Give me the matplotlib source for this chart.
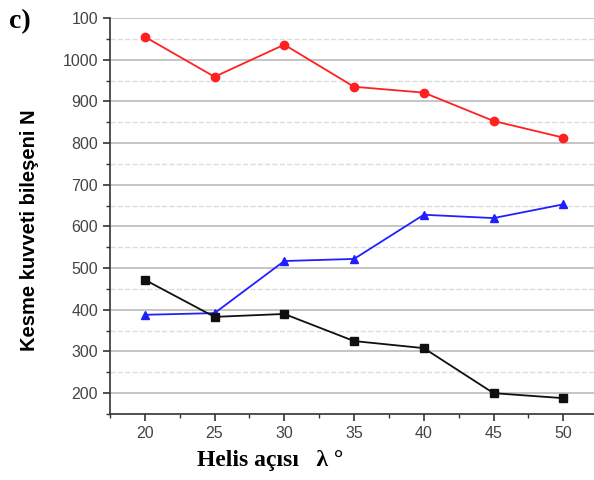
import numpy as np
import matplotlib
matplotlib.use("Agg")
import matplotlib.pyplot as plt
from matplotlib.ticker import MultipleLocator, FixedLocator, FixedFormatter

# data
angle = [20, 25, 30, 35, 40, 45, 50]
red_vals = [1055, 959, 1036, 935, 921, 853, 813]
blue_vals = [388, 392, 517, 522, 628, 620, 653]
black_vals = [472, 383, 390, 325, 308, 200, 188]

y_ticks = [200, 300, 400, 500, 600, 700, 800, 900, 1000, 1100]
y_tick_labels = ["200", "300", "400", "500", "600", "700", "800", "900", "1000", "100"]

fig = plt.figure(figsize=(5.94, 4.8), dpi=100)
ax = fig.add_axes([0.185, 0.1375, 0.815, 0.825])

ax.plot(angle, red_vals, color="#ff2020", marker="o", markersize=6, lw=1.3)
ax.plot(angle, blue_vals, color="#2020ff", marker="^", markersize=6, lw=1.3)
ax.plot(angle, black_vals, color="#101010", marker="s", markersize=5.5, lw=1.3)

ax.set_xlim(17.5, 52.2)
ax.set_ylim(150, 1100)
ax.set_xticks(angle)
ax.xaxis.set_minor_locator(MultipleLocator(2.5))
ax.yaxis.set_major_locator(FixedLocator(y_ticks))
ax.yaxis.set_major_formatter(FixedFormatter(y_tick_labels))
ax.yaxis.set_minor_locator(MultipleLocator(50))

# grid lines, major solid and minor dashed
ax.grid(True, axis="y", which="major", color="#c0c0c0", lw=1.3)
ax.grid(True, axis="y", which="minor", color="#dcdcdc", lw=1.0, ls="--")
ax.set_axisbelow(True)

for s in ["top", "right"]:
    ax.spines[s].set_visible(False)
for s in ["left", "bottom"]:
    ax.spines[s].set_color("#333333")
    ax.spines[s].set_linewidth(1.2)

ax.tick_params(which="major", direction="out", length=5, width=1.2, color="#333333",
               labelsize=11.5, labelcolor="#444444")
ax.tick_params(which="minor", direction="out", length=3, width=1.0, color="#333333")
for lab in ax.get_xticklabels() + ax.get_yticklabels():
    lab.set_family("Liberation Sans")

fig.text(0.05, 0.52, "Kesme kuvveti bileşeni N", fontsize=14.5, fontweight="bold",
         family="Liberation Sans", rotation=90, ha="center", va="center")
fig.text(0.332, 0.04, "Helis açısı   λ °", fontsize=17, fontweight="bold",
         family=["Liberation Serif", "DejaVu Serif"], ha="left", va="center")
fig.text(0.015, 0.955, "c)", fontsize=20, fontweight="bold",
         family="Liberation Serif", ha="left", va="center")

fig.savefig("out.png", dpi=100)
